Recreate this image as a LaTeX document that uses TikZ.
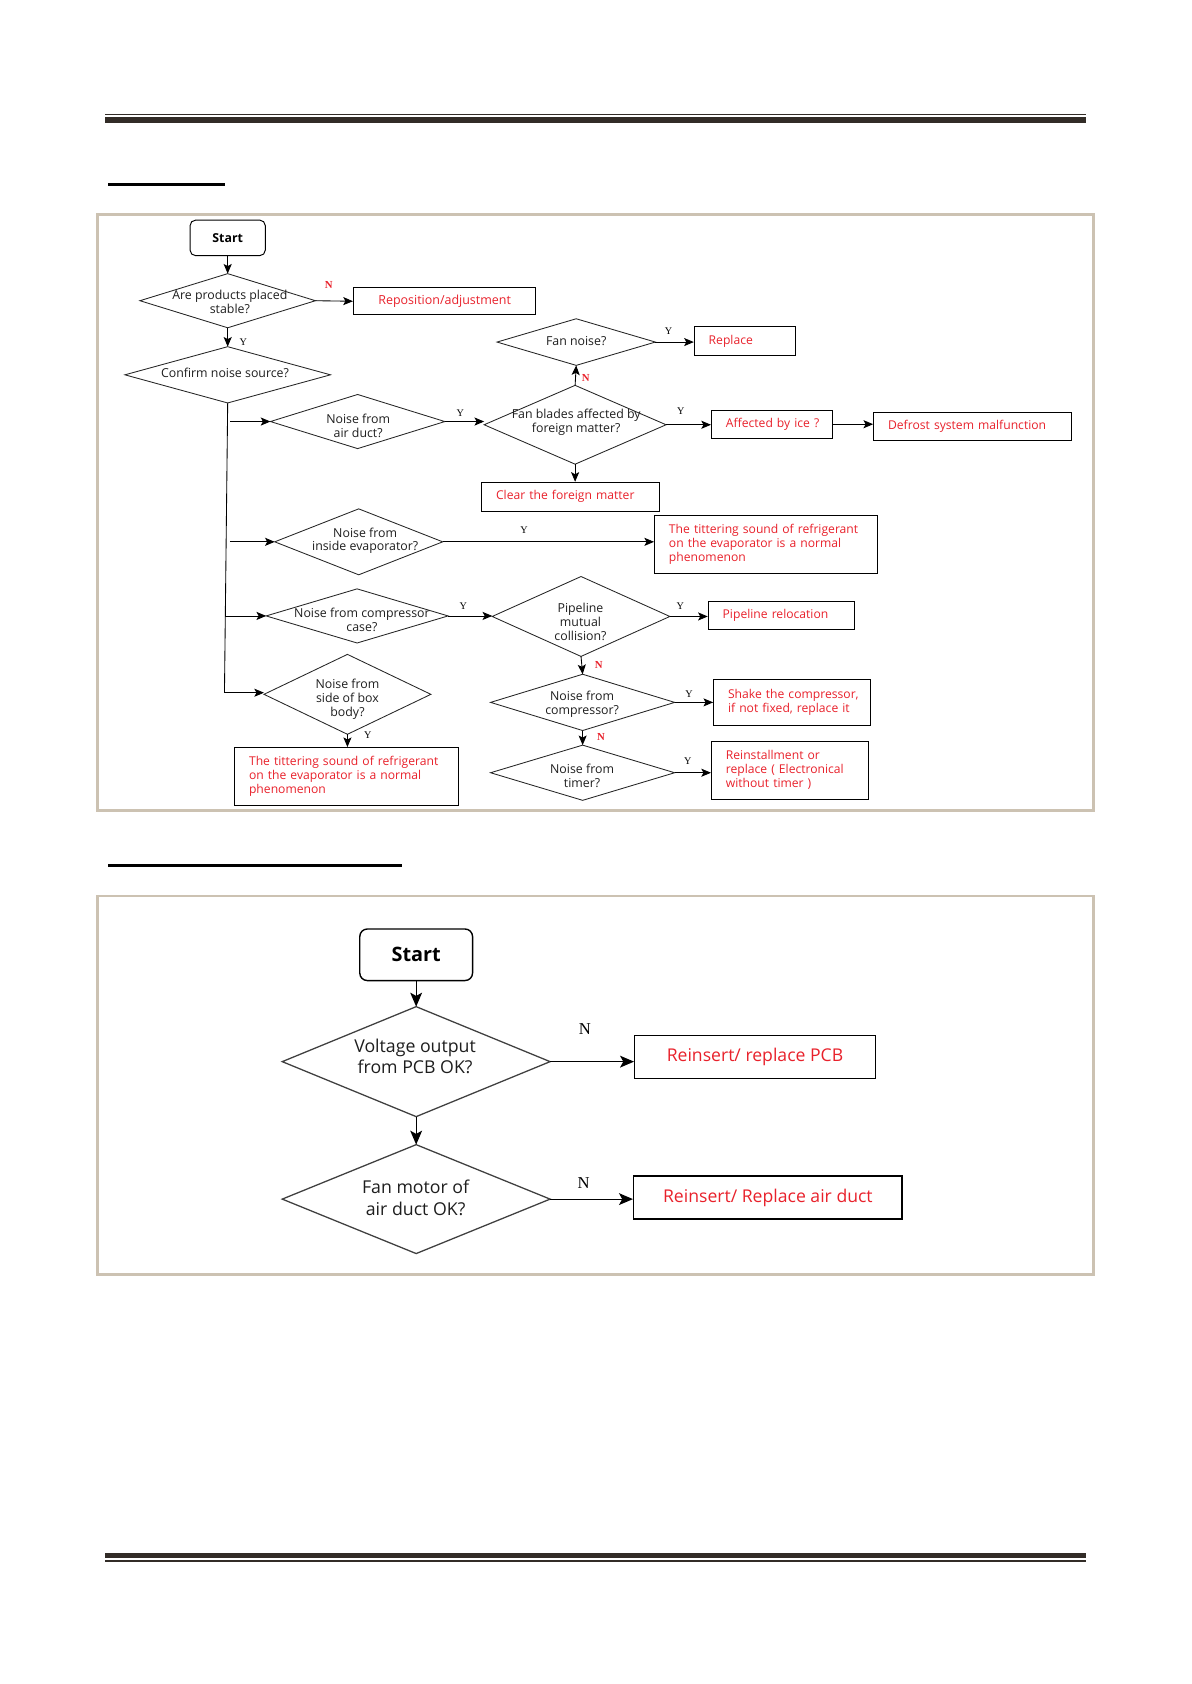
\documentclass[tikz,border=0pt]{standalone}
\usepackage{fontspec}
\setmainfont{Open Sans}
\newfontfamily\ynfont{Liberation Serif}
\usetikzlibrary{arrows.meta}
\definecolor{redtxt}{HTML}{E8212B}
\definecolor{framec}{HTML}{CCC2B2}
\definecolor{barc}{HTML}{322C27}
\definecolor{txt}{HTML}{1E1E1E}
\newcommand\dianode[5]{\node[dshape, minimum width=#4, minimum height=#5] (#1) at (#2,#3) {};}
\begin{document}
\begin{tikzpicture}[x=1pt,y=-1pt,
  dshape/.style={shape=rectangle, inner sep=0pt, draw=none},
  dline/.style={line width=0.8pt, draw=black!85},
  dlinebig/.style={line width=1.2pt, draw=black!75},
  dtext/.style={inner sep=0pt, align=center, text=txt, font=\fontsize{11.5}{13}\selectfont},
  dtextbig/.style={inner sep=0pt, align=center, text=txt, font=\fontsize{16.5}{20}\selectfont},
  cbox/.style={draw, line width=0.8pt, inner sep=0pt, text=redtxt, font=\fontsize{11.6}{13}\selectfont},
  lbox/.style={draw, line width=0.8pt, inner ysep=0pt, inner xsep=13.5pt, text=redtxt, align=left, font=\fontsize{11.3}{13}\selectfont},
  cboxbig/.style={draw, line width=1.3pt, inner sep=0pt, text=redtxt, font=\fontsize{16.4}{19}\selectfont},
  startbox/.style={draw, line width=0.9pt, rounded corners=5pt, inner sep=0pt, text=black, font=\bfseries\fontsize{11.5}{13}\selectfont},
  startbig/.style={draw, line width=1.3pt, rounded corners=7pt, inner sep=0pt, text=black, font=\bfseries\fontsize{18.5}{20}\selectfont},
  yl/.style={inner sep=0pt, text=black, font=\ynfont\fontsize{9.5}{10}\selectfont},
  nl/.style={inner sep=0pt, text=redtxt, font=\ynfont\bfseries\fontsize{10}{10}\selectfont},
  nlbig/.style={inner sep=0pt, text=black, font=\ynfont\fontsize{15.5}{16}\selectfont},
  ln/.style={line width=0.8pt},
  arr/.style={line width=0.8pt, -{Stealth[length=9pt,width=7.5pt,inset=2pt]}},
  arrbig/.style={line width=1.1pt, -{Stealth[length=13pt,width=11pt,inset=3pt]}}
]
\useasboundingbox (0,0) rectangle (1109,1568);
% ---------- page furniture ----------
\draw[barc, line width=1pt] (97.8,106.4) -- (1011,106.4);
\fill[barc] (97.8,108.7) rectangle (1011,114.2);
\fill[black] (100.6,170.4) rectangle (209.2,172.9);
\draw[framec, line width=2.3pt] (90.6,199.8) rectangle (1018.2,754.7);
\fill[black] (100.6,804.8) rectangle (374,807.3);
\draw[framec, line width=2.3pt] (90.6,834.5) rectangle (1018.2,1186.9);
\fill[barc] (97.8,1445.9) rectangle (1011,1450.3);
\draw[barc, line width=1.6pt] (97.8,1453.3) -- (1011,1453.3);

% ---------- flowchart 1 ----------
\node[startbox, minimum width=70, minimum height=33] (s1) at (212,221.5) {Start};

\dianode{d1}{212}{280}{163}{50}
\node[dtext] (d1t) at (214,281.5) {Are products placed\\stable?};
\node[cbox, minimum width=170, minimum height=25] (rep) at (414,280.5) {Reposition/adjustment};

\dianode{d2}{212}{349}{191}{52}
\node[dtext] (d2t) at (209.5,347.5) {Confirm noise source?};

\dianode{d3}{333}{392.5}{162}{50}
\node[dtext] (d3t) at (333.5,396.5) {Noise from\\air duct?};

\dianode{d5}{535.5}{395.5}{169}{73}
\node[dtext] (d5t) at (536.5,393.5) {Fan blades affected by\\foreign matter?};

\dianode{dfan}{536.5}{318.5}{147}{43}
\node[dtext] (dfant) at (536.5,317.5) {Fan noise?};

\node[lbox, anchor=west, text width=67, minimum height=27] (rpl) at (646,317.5) {\mbox{Replace}};
\node[lbox, anchor=west, text width=86, minimum height=26] (ice) at (662,395) {\mbox{Affected by ice ?}};
\node[lbox, anchor=west, text width=157, minimum height=26] (dfr) at (813,397) {\mbox{Defrost system malfunction}};
\node[lbox, anchor=west, text width=139, minimum height=27] (clr) at (448,462.5) {\mbox{Clear the foreign matter}};

\dianode{d4}{334}{504.5}{156}{61}
\node[dtext] (d4t) at (340,503.5) {Noise from\\inside evaporator?};
\node[lbox, anchor=west, text width=181, minimum height=54] (tt1) at (609,507) {\mbox{The tittering sound of refrigerant}\\\mbox{on the evaporator is a normal}\\\mbox{phenomenon}};

\dianode{d6}{332.5}{573.5}{169}{50}
\node[dtext] (d6t) at (337,577.5) {Noise from compressor\\case?};

\dianode{d7}{541}{574}{165}{74}
\node[dtext] (d7t) at (540.5,579) {Pipeline\\mutual\\collision?};
\node[lbox, anchor=west, text width=109, minimum height=26] (pip) at (659,573) {\mbox{Pipeline relocation}};

\dianode{d9}{542.5}{654}{171}{52}
\node[dtext] (d9t) at (542,656) {Noise from\\compressor?};
\node[lbox, anchor=west, text width=119, minimum height=42] (shk) at (664,654) {\mbox{Shake the compressor,}\\\mbox{if not fixed, replace it}};

\dianode{d10}{542.5}{719.5}{171}{51}
\node[dtext] (d10t) at (542,722.5) {Noise from\\timer?};
\node[lbox, anchor=west, text width=119, minimum height=54] (rin) at (662,717) {\mbox{Reinstallment or}\\\mbox{replace ( Electronical}\\\mbox{without timer )}};

\dianode{d8}{323.5}{646.5}{155}{74}
\node[dtext] (d8t) at (323.5,651) {Noise from\\side of box\\body?};
\node[lbox, anchor=west, text width=181, minimum height=54] (tt2) at (218,723) {\mbox{The tittering sound of refrigerant}\\\mbox{on the evaporator is a normal}\\\mbox{phenomenon}};

\foreach \n in {d1,d2,d3,d5,dfan,d4,d6,d7,d9,d10,d8}
  {\draw[dline] (\n.north) -- (\n.east) -- (\n.south) -- (\n.west) -- cycle;}

% connectors flowchart 1
\draw[arr] (s1.south) -- (d1.north);
\draw[arr] (d1.east) -- (rep.west);
\node[nl] (n1) at (306,265) {N};
\draw[arr] (d1.south) -- (d2.north);
\node[yl] (y1) at (226.5,318.5) {Y};

\coordinate (tk) at (209,645);
\draw[ln] (d2.south) -- (tk);
\coordinate (tb1) at (214.5,392.5);
\coordinate (tb2) at (214,504.5);
\coordinate (tb3) at (209.8,573.5);
\draw[arr] (tb1) -- (d3.west);
\draw[arr] (tb2) -- (d4.west);
\draw[arr] (tb3) -- (d6.west);
\draw[arr] (tk) -- (tk -| d8.west);

\draw[arr] (d3.east) -- (d3.east -| d5.west);
\node[yl] (y2) at (428.5,384.5) {Y};
\draw[arr] (d5.north) -- (dfan.south);
\node[nl] (n2) at (545.5,351.5) {N};
\draw[arr] (dfan.east) -- (dfan.east -| rpl.west);
\node[yl] (y3) at (622.5,308.5) {Y};
\draw[arr] (d5.east) -- (d5.east -| ice.west);
\node[yl] (y4) at (634,382.5) {Y};
\draw[arr] (ice.east) -- (ice.east -| dfr.west);
\draw[arr] (d5.south) -- (d5.south |- clr.north);

\draw[arr] (d4.east) -- (d4.east -| tt1.west);
\node[yl] (y5) at (488,493.5) {Y};

\draw[arr] (d6.east) -- (d6.east -| d7.west);
\node[yl] (y6) at (431.5,564.5) {Y};
\draw[arr] (d7.east) -- (d7.east -| pip.west);
\node[yl] (y7) at (633.5,564) {Y};
\draw[arr] (d7.south) -- (d9.north);
\node[nl] (n3) at (557.5,619.5) {N};
\draw[arr] (d9.east) -- (d9.east -| shk.west);
\node[yl] (y8) at (641.5,646) {Y};
\draw[arr] (d9.south) -- (d10.north);
\node[nl] (n4) at (559.5,686.5) {N};
\draw[arr] (d10.east) -- (d10.east -| rin.west);
\node[yl] (y9) at (640.5,708.5) {Y};

\draw[arr] (d8.south) -- (d8.south |- tt2.north);
\node[yl] (y10) at (342.5,684.5) {Y};

% ---------- flowchart 2 ----------
\node[startbig, minimum width=105, minimum height=48] (s2) at (387.5,889) {Start};
\dianode{e1}{387.5}{988.5}{249}{102}
\node[dtextbig] (e1t) at (386.5,983.5) {Voltage output\\from PCB OK?};
\dianode{e2}{387.5}{1116.5}{249}{101}
\node[dtextbig] (e2t) at (387,1115.5) {Fan motor of\\air duct OK?};
\foreach \n in {e1,e2}
  {\draw[dlinebig] (\n.north) -- (\n.east) -- (\n.south) -- (\n.west) -- cycle;}
\node[cboxbig, minimum width=224, minimum height=40] (pcb) at (703,984) {Reinsert/ replace PCB};
\node[cboxbig, minimum width=250, minimum height=40] (duc) at (715,1115) {Reinsert/ Replace air duct};

\draw[arrbig] (s2.south) -- (e1.north);
\draw[arrbig] (e1.east) -- (e1.east -| pcb.west);
\node[nlbig] (n5) at (544.5,958.5) {N};
\draw[arrbig] (e1.south) -- (e2.north);
\draw[arrbig] (e2.east) -- (e2.east -| duc.west);
\node[nlbig] (n6) at (543.5,1101.5) {N};
\end{tikzpicture}
\end{document}
